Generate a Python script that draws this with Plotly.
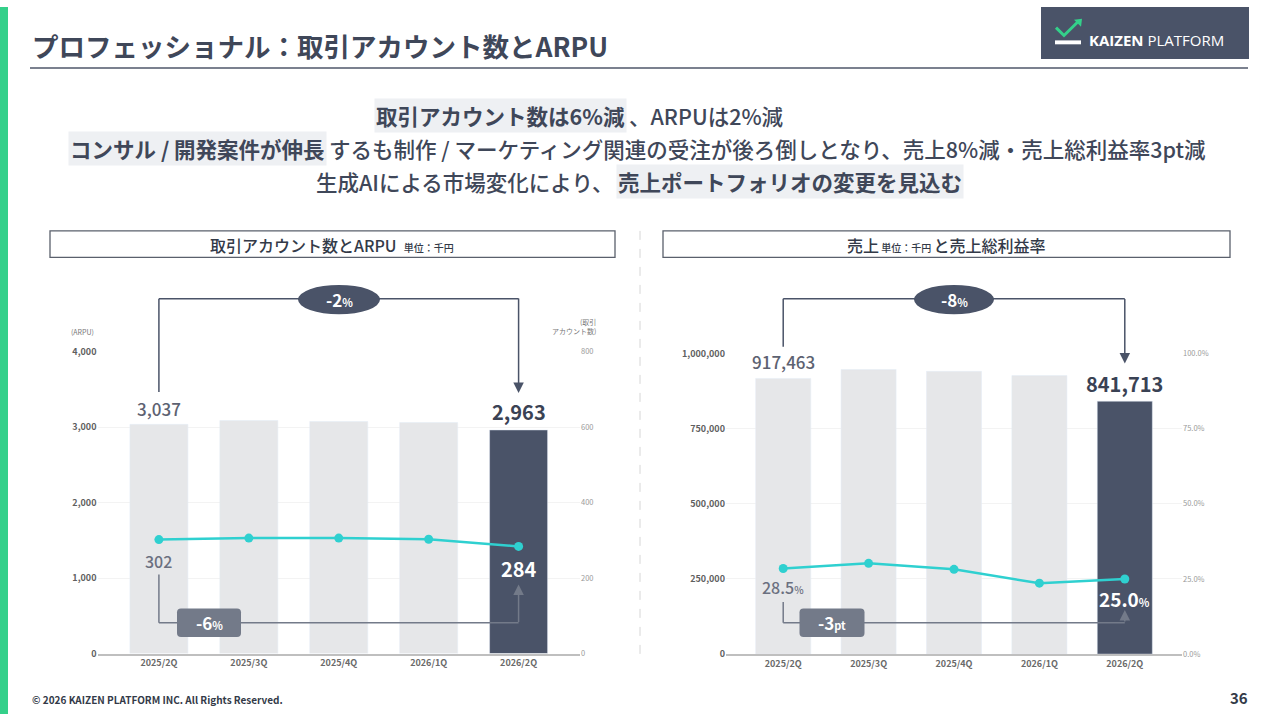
import plotly.graph_objects as go

# data
quarters = ["2025/2Q", "2025/3Q", "2025/4Q", "2026/1Q", "2026/2Q"]
arpu = [3037, 3088, 3075, 3062, 2963]          # 千円
accounts = [302, 306, 306, 303, 284]
sales = [917463, 947000, 941000, 927000, 841713]  # 千円
gross_margin = [28.5, 30.2, 28.2, 23.6, 25.0]     # %

arpu_ticks = [0, 1000, 2000, 3000, 4000]
acct_ticks = [0, 200, 400, 600, 800]
sales_ticks = [0, 250000, 500000, 750000, 1000000]
margin_ticks = [0, 25, 50, 75, 100]

W, H = 1280, 720
FONT = "Noto Sans CJK JP"
DARK = "#4a5368"
TEXT = "#3f4759"
LIGHT_BAR = "#e6e7e9"
TEAL = "#2fd0d0"
MID = "#737a89"


def px(x):
    return x / W


def py(y):
    return 1 - y / H


bar_colors = [LIGHT_BAR] * (len(quarters) - 1) + [DARK]

fig = go.Figure()
fig.add_trace(go.Bar(x=quarters, y=arpu, marker_color=bar_colors, xaxis="x", yaxis="y"))
fig.add_trace(go.Scatter(x=quarters, y=accounts, mode="lines+markers", xaxis="x", yaxis="y2",
                         line=dict(color=TEAL, width=2.5), marker=dict(size=9, color=TEAL)))
fig.add_trace(go.Bar(x=quarters, y=sales, marker_color=bar_colors, xaxis="x2", yaxis="y3"))
fig.add_trace(go.Scatter(x=quarters, y=gross_margin, mode="lines+markers", xaxis="x2", yaxis="y4",
                         line=dict(color=TEAL, width=2.5), marker=dict(size=9, color=TEAL)))

xcommon = dict(type="category", showgrid=False, zeroline=False, showline=True,
               linecolor="#bfbfbf", linewidth=2, ticks="",
               tickfont=dict(family=FONT, size=9, color="#6a6a6a", weight=700), fixedrange=True)
yleft = dict(showgrid=True, gridcolor="#f3f3f3", zeroline=False, showline=False, ticks="",
             tickfont=dict(family=FONT, size=9, color="#5f5f5f", weight=700))
yright = dict(showgrid=False, zeroline=False, showline=False, ticks="",
              tickfont=dict(family=FONT, size=7.5, color="#9a9a9a"))

fig.update_layout(
    width=W, height=H, margin=dict(l=0, r=0, t=0, b=0),
    paper_bgcolor="white", plot_bgcolor="white", showlegend=False,
    bargap=0.355,
    font=dict(family=FONT, color=TEXT),
    xaxis=dict(xcommon, domain=[px(97.5), px(580)], range=[-0.683, 4.683], anchor="y"),
    yaxis=dict(yleft, domain=[py(658.5), py(351)], range=[0, 4000], tickvals=arpu_ticks,
               tickformat=",", anchor="x"),
    yaxis2=dict(yright, overlaying="y", side="right", range=[0, 800], tickvals=acct_ticks, anchor="x"),
    xaxis2=dict(xcommon, domain=[px(726), px(1182)], range=[-0.67, 4.67], anchor="y3"),
    yaxis3=dict(yleft, domain=[py(659), py(353)], range=[0, 1000000], tickvals=sales_ticks,
                tickformat=",", anchor="x2"),
    yaxis4=dict(yright, overlaying="y3", side="right", range=[0, 100], tickvals=margin_ticks,
                ticktext=[f"{v:.1f}%" for v in margin_ticks], anchor="x2"),
)

shapes = []
ann = []

# left accent bar, title, rule
shapes.append(dict(type="rect", xref="paper", yref="paper", x0=0, x1=px(8), y0=0, y1=1,
                   fillcolor="#34d08a", line_width=0, layer="below"))
ann.append(dict(text="<b>プロフェッショナル：取引アカウント数とARPU</b>", x=px(30), y=py(39),
                xanchor="left", yanchor="middle", font=dict(size=26.5, color=TEXT)))
shapes.append(dict(type="line", xref="paper", yref="paper", x0=px(30), x1=px(1248), y0=py(62), y1=py(62),
                   line=dict(color="#7b818f", width=2)))

# logo
shapes.append(dict(type="rect", xref="paper", yref="paper", x0=px(1041), x1=px(1249), y0=py(53), y1=1,
                   fillcolor=DARK, line_width=0))
shapes.append(dict(type="path", xref="paper", yref="paper",
                   path=f"M {px(1056)},{py(21)} L {px(1064)},{py(29)} L {px(1078)},{py(15)}",
                   line=dict(color="#34d08a", width=3)))
shapes.append(dict(type="path", xref="paper", yref="paper",
                   path=f"M {px(1074)},{py(13)} L {px(1082)},{py(12)} L {px(1081)},{py(20)} Z",
                   fillcolor="#34d08a", line_width=0))
shapes.append(dict(type="rect", xref="paper", yref="paper", x0=px(1055), x1=px(1081), y0=py(38), y1=py(34),
                   fillcolor="white", line_width=0))
ann.append(dict(text="<b>KAIZEN</b> PLATFORM", x=px(1087), y=py(34), xanchor="left", yanchor="middle",
                font=dict(family="Open Sans", size=15, color="white")))

# headline text
HL = "#eef0f3"
lines = [
    (111, "<b>取引アカウント数は6%減</b>", "、ARPUは2%減", 627, True),
    (144, "<b>コンサル / 開発案件が伸長</b>", "するも制作 / マーケティング関連の受注が後ろ倒しとなり、売上8%減・売上総利益率3pt減", 327, True),
    (178, "生成AIによる市場変化により、", "<b>売上ポートフォリオの変更を見込む</b>", 616, False),
]
for y, left_txt, right_txt, split, left_hl in lines:
    ann.append(dict(text=left_txt, x=px(split), y=py(y), xanchor="right", yanchor="middle",
                    font=dict(size=21.5, color=TEXT, weight=500), bgcolor=HL if left_hl else None, borderpad=1))
    ann.append(dict(text=right_txt, x=px(split), y=py(y), xanchor="left", yanchor="middle",
                    font=dict(size=21.5, color=TEXT, weight=500), bgcolor=None if left_hl else HL, borderpad=1))

# panel headers
for x0, x1 in [(50, 615), (663, 1230)]:
    shapes.append(dict(type="rect", xref="paper", yref="paper", x0=px(x0), x1=px(x1), y0=py(255), y1=py(228),
                       line=dict(color="#5a606c", width=1.3), fillcolor="white"))
ann.append(dict(text="取引アカウント数とARPU  <span style='font-size:10px'>単位：千円</span>",
                x=px(332), y=py(242), xanchor="center", yanchor="middle",
                font=dict(size=16, color="#333a48", weight=500)))
ann.append(dict(text="売上<span style='font-size:10px'> 単位：千円 </span>と売上総利益率",
                x=px(946), y=py(242), xanchor="center", yanchor="middle",
                font=dict(size=16, color="#333a48", weight=500)))

# divider
shapes.append(dict(type="line", xref="paper", yref="paper", x0=px(640), x1=px(640), y0=py(228), y1=py(662),
                   line=dict(color="#d6d6d6", width=1, dash="dash")))

# axis titles
ann.append(dict(text="(ARPU)", x=px(82), y=py(331), xanchor="center", yanchor="middle",
                font=dict(size=7, color="#777")))
ann.append(dict(text="(取引<br>アカウント数)", x=px(598), y=py(325), xanchor="right", yanchor="middle",
                align="right", font=dict(size=7, color="#777")))


# value labels
def label(xref, yref, i, val, text, shift, size, color, weight):
    ann.append(dict(text=text, x=quarters[i], y=val, xref=xref, yref=yref, xanchor="center",
                    yanchor="middle", yshift=shift, font=dict(size=size, color=color, weight=weight)))


label("x", "y", 0, arpu[0], f"{arpu[0]:,}", 16, 17, "#5d6271", 500)
label("x", "y", 4, arpu[4], f"{arpu[4]:,}", 18, 20, "#3a4254", 700)
label("x", "y2", 0, accounts[0], f"{accounts[0]}", -21, 16, "#6b7080", 500)
label("x", "y2", 4, accounts[4], f"{accounts[4]}", -22, 20, "white", 700)
label("x2", "y3", 0, sales[0], f"{sales[0]:,}", 17, 17, "#5d6271", 500)
label("x2", "y3", 4, sales[4], f"{sales[4]:,}", 18, 20, "#3a4254", 700)
label("x2", "y4", 0, gross_margin[0], f"{gross_margin[0]:.1f}<span style='font-size:10px'>%</span>",
      -19, 16, "#6b7080", 500)
label("x2", "y4", 4, gross_margin[4], f"{gross_margin[4]:.1f}<span style='font-size:11px'>%</span>",
      -20, 19, "white", 700)


# brackets
def bracket(xref, y_start, y_bar, y_tip, color, width):
    shapes.append(dict(type="line", xref=xref, yref="paper", x0=quarters[0], x1=quarters[0],
                       y0=py(y_start), y1=py(y_bar), line=dict(color=color, width=width)))
    shapes.append(dict(type="line", xref=xref, yref="paper", x0=quarters[0], x1=quarters[-1],
                       y0=py(y_bar), y1=py(y_bar), line=dict(color=color, width=width)))
    ann.append(dict(text="", x=quarters[-1], y=py(y_tip), xref=xref, yref="paper", showarrow=True,
                    ax=0, ay=y_bar - y_tip, arrowhead=2, arrowsize=1.4, arrowwidth=width,
                    arrowcolor=color, standoff=0))


bracket("x", 392, 297, 393, DARK, 1.5)
bracket("x2", 346, 297, 363, DARK, 1.5)
bracket("x", 578, 627, 588, MID, 1.5)
bracket("x2", 606, 627, 614, MID, 1.5)


def oval(cx, cy, w, h, txt):
    shapes.append(dict(type="circle", xref="paper", yref="paper", x0=px(cx - w / 2), x1=px(cx + w / 2),
                       y0=py(cy + h / 2), y1=py(cy - h / 2), fillcolor=DARK, line_width=0))
    ann.append(dict(text=txt, x=px(cx), y=py(cy), xanchor="center", yanchor="middle",
                    font=dict(size=17, color="white")))


def rbox(cx, cy, w, h, txt, r=4):
    x0, x1 = cx - w / 2, cx + w / 2
    y0, y1 = cy - h / 2, cy + h / 2
    p = (f"M {px(x0 + r)},{py(y0)} L {px(x1 - r)},{py(y0)} Q {px(x1)},{py(y0)} {px(x1)},{py(y0 + r)} "
         f"L {px(x1)},{py(y1 - r)} Q {px(x1)},{py(y1)} {px(x1 - r)},{py(y1)} "
         f"L {px(x0 + r)},{py(y1)} Q {px(x0)},{py(y1)} {px(x0)},{py(y1 - r)} "
         f"L {px(x0)},{py(y0 + r)} Q {px(x0)},{py(y0)} {px(x0 + r)},{py(y0)} Z")
    shapes.append(dict(type="path", xref="paper", yref="paper", path=p, fillcolor=MID, line_width=0))
    ann.append(dict(text=txt, x=px(cx), y=py(cy), xanchor="center", yanchor="middle",
                    font=dict(size=17, color="white")))


oval(339, 298, 82, 30, "<b>-2<span style='font-size:11px'>%</span></b>")
oval(954, 298, 80, 30, "<b>-8<span style='font-size:11px'>%</span></b>")
rbox(209, 627, 64, 29, "<b>-6<span style='font-size:11px'>%</span></b>")
rbox(832, 627, 65, 29, "<b>-3<span style='font-size:11px'>pt</span></b>")

# footer
ann.append(dict(text="<b>© 2026 KAIZEN PLATFORM INC. All Rights Reserved.</b>", x=px(30), y=py(705),
                xanchor="left", yanchor="middle", font=dict(size=10, color="#333a48")))
ann.append(dict(text="<b>36</b>", x=px(1250), y=py(703), xanchor="right", yanchor="middle",
                font=dict(size=15, color="#333a48")))

for a in ann:
    a.setdefault("xref", "paper")
    a.setdefault("yref", "paper")
    a.setdefault("showarrow", False)

fig.update_layout(shapes=shapes, annotations=ann)
# pin the figure to the top-left corner of the page
pin = ("var d=document.getElementById('{plot_id}');"
       "d.style.position='fixed';d.style.top='0';d.style.left='0';"
       "document.body.style.margin='0';document.documentElement.style.overflow='hidden';")
fig.write_html("out.html", config={"displayModeBar": False}, post_script=pin)
